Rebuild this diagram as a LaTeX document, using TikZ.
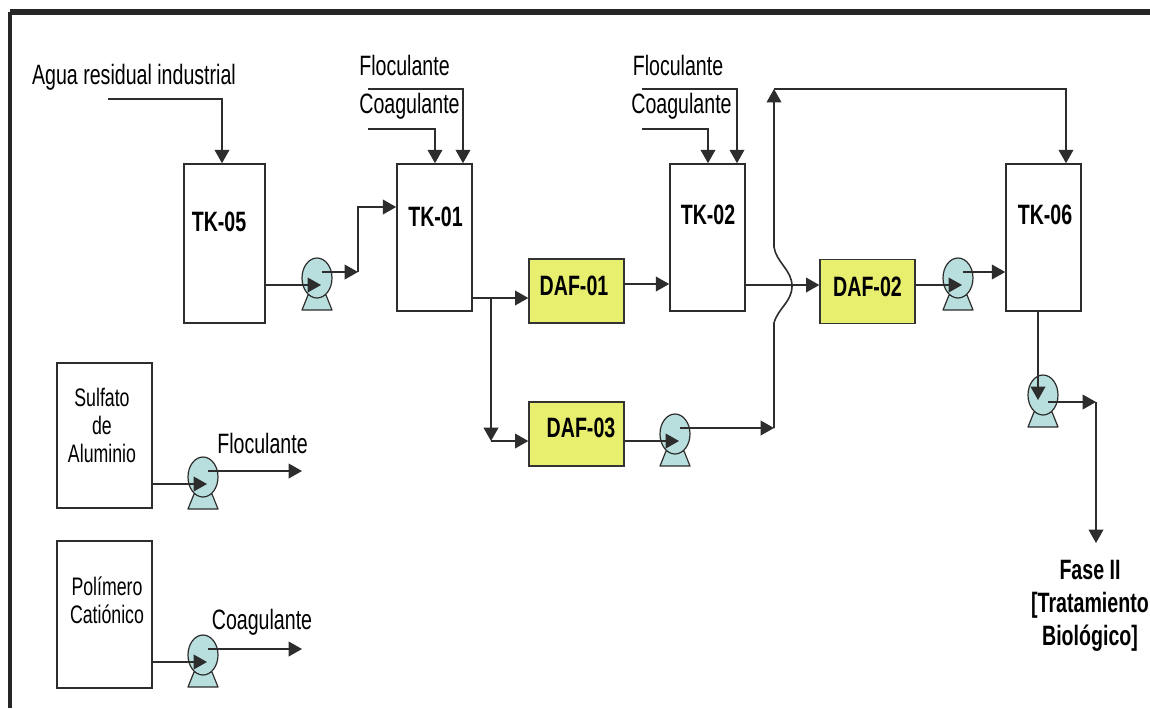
\documentclass[tikz,border=0pt]{standalone}
\usepackage{fontspec}
\setmainfont[FakeStretch=0.7]{Liberation Sans}
\usetikzlibrary{arrows.meta}

\definecolor{dafyellow}{RGB}{232,238,110}
\definecolor{pumpblue}{RGB}{184,222,222}
\definecolor{pipegray}{RGB}{45,45,45}

\tikzset{
  pipe/.style={draw=pipegray, line width=1.2pt},
  tank/.style={draw=pipegray, line width=1.2pt, fill=white, inner sep=0pt},
  daf/.style={draw=black!80, line width=1.2pt, fill=dafyellow, inner sep=0pt,
    minimum width=71pt, minimum height=48pt},
  thintext/.style={inner sep=0pt, font=\fontsize{21}{24}\selectfont},
  tanktext/.style={inner sep=0pt, font=\fontsize{21}{24}\selectfont\bfseries},
  smalltext/.style={inner sep=0pt, align=center, font=\fontsize{19}{21}\selectfont},
  pump/.pic={
    \draw [draw=pipegray, line width=0.9pt, fill=pumpblue, line join=round]
      (-9,17) -- (-15,32) -- (15,32) -- (9,17) -- cycle;
    \draw [draw=pipegray, line width=0.9pt, fill=pumpblue] (0,0) ellipse (15 and 20);
    \coordinate (-in) at (4,7);
    \coordinate (-out) at (5,-6);
  },
}

\begin{document}
\begin{tikzpicture}[x=0.75pt, y=-0.75pt, >={Triangle[length=10pt,width=11pt]}]
  \useasboundingbox (0,0) rectangle (1150,708);
  \coordinate (framea) at (10,708);
  \coordinate (frameb) at (10,12);
  \coordinate (framec) at (1150,12);
  \draw [line width=3pt, black!85] (framea) -- (frameb);
  \draw [line width=4pt, black!85] (frameb) -- (framec);

  \node [tank, minimum width=60.75pt, minimum height=119.25pt] (tk05) at (224.5,243.5) {};
  \node [tank, minimum width=56.25pt, minimum height=110.25pt] (tk01) at (434.5,237.5) {};
  \node [tank, minimum width=56.25pt, minimum height=110.25pt] (tk02) at (707.5,237.5) {};
  \node [tank, minimum width=56.25pt, minimum height=110.25pt] (tk06) at (1043.5,237.5) {};
  \node [tank, minimum width=71.25pt, minimum height=108.75pt] (sulfato) at (104.5,435.5) {};
  \node [tank, minimum width=71.25pt, minimum height=110.25pt] (polimero) at (104.5,614.5) {};
  \node [daf] (dafa) at (576.5,291) {};
  \node [daf] (dafb) at (867.5,291.5) {};
  \node [daf] (dafc) at (576.5,434) {};

  \node [tanktext] (tk05text) at (219,222) {TK-05};
  \node [tanktext] (tk01text) at (435.5,217) {TK-01};
  \node [tanktext] (tk02text) at (708,215) {TK-02};
  \node [tanktext] (tk06text) at (1045,215) {TK-06};
  \node [tanktext] (dafatext) at (574,286) {DAF-01};
  \node [tanktext] (dafbtext) at (867.5,287) {DAF-02};
  \node [tanktext] (dafctext) at (581,428) {DAF-03};
  \node [smalltext] (sulfatotext) at (102,425) {Sulfato\\de\\Aluminio};
  \node [smalltext] (polimerotext) at (107,600) {Polímero\\Catiónico};

  \node [thintext] (agua) at (134,77) {Agua residual industrial};
  \node [thintext] (floca) at (404.5,65) {Floculante};
  \node [thintext] (coaga) at (409.5,106) {Coagulante};
  \node [thintext] (flocb) at (678,65) {Floculante};
  \node [thintext] (coagb) at (681.5,106) {Coagulante};
  \node [thintext] (flocc) at (262.5,443) {Floculante};
  \node [thintext] (coagc) at (262,622) {Coagulante};
  \node [inner sep=0pt, align=center, font=\fontsize{21}{24.75}\selectfont\bfseries] (fase)
    at (1090,606) {Fase II\\{[}Tratamiento\\Biológico{]}};

  \pic (pa) at (317,278) {pump};
  \pic (pb) at (675,434) {pump};
  \pic (pc) at (958,278) {pump};
  \pic (pd) at (203,477) {pump};
  \pic (pe) at (203,655) {pump};
  \pic (pf) at (1043,395) {pump};

  \coordinate (aguastart) at (108,99);
  \coordinate (aguaturn) at (222,99);
  \draw [pipe,->] (aguastart) -- (aguaturn) -- (aguaturn |- tk05.north);

  \coordinate (flocastart) at (368,89);
  \coordinate (flocaturn) at (463,89);
  \coordinate (coagastart) at (368,129);
  \coordinate (coagaturn) at (435,129);
  \draw [pipe,->] (flocastart) -- (flocaturn) -- (flocaturn |- tk01.north);
  \draw [pipe,->] (coagastart) -- (coagaturn) -- (coagaturn |- tk01.north);

  \coordinate (flocbstart) at (642,89);
  \coordinate (flocbturn) at (737,89);
  \coordinate (coagbstart) at (642,129);
  \coordinate (coagbturn) at (708,129);
  \draw [pipe,->] (flocbstart) -- (flocbturn) -- (flocbturn |- tk02.north);
  \draw [pipe,->] (coagbstart) -- (coagbturn) -- (coagbturn |- tk02.north);

  \coordinate (paturn) at (358,272);
  \coordinate (parise) at (358,207);
  \draw [pipe,->] (pa-in -| tk05.east) -- (pa-in);
  \draw [pipe,->] (pa-out) -- (paturn);
  \draw [pipe,->] (paturn) -- (parise) -- (parise -| tk01.west);

  \coordinate (tk01out) at (472,298);
  \coordinate (branch) at (491,298);
  \coordinate (branchend) at (491,441);
  \draw [pipe,->] (tk01out) -- (tk01out -| dafa.west);
  \draw [pipe,->] (branch) -- (branchend);
  \draw [pipe,->] (branchend) -- (branchend -| dafc.west);

  \coordinate (dafaout) at (624,284);
  \draw [pipe,->] (dafaout) -- (dafaout -| tk02.west);
  \coordinate (tk02out) at (745,285);
  \draw [pipe,->] (tk02out) -- (tk02out -| dafb.west);

  \coordinate (riser) at (774,428);
  \coordinate (jumplow) at (774,323);
  \coordinate (jumpmid) at (792,286);
  \coordinate (jumpup) at (774,247);
  \coordinate (risertop) at (774,89);
  \coordinate (topturn) at (1066,89);
  \draw [pipe,->] (pb-in -| dafc.east) -- (pb-in);
  \draw [pipe,->] (pb-out) -- (riser);
  \draw [pipe] (riser) -- (jumplow)
    .. controls (778,308) and (792,302) .. (jumpmid)
    .. controls (792,270) and (776,262) .. (jumpup);
  \draw [pipe,->] (jumpup) -- (risertop);
  \draw [pipe,->] (risertop) -- (topturn) -- (topturn |- tk06.north);

  \draw [pipe,->] (pc-in -| dafb.east) -- (pc-in);
  \draw [pipe,->] (pc-out) -- (pc-out -| tk06.west);

  \coordinate (tk06out) at (1038,310);
  \coordinate (pfin) at (1038,400);
  \coordinate (pfout) at (1048,402);
  \coordinate (pfturn) at (1096,402);
  \coordinate (faseend) at (1096,543);
  \draw [pipe,->] (tk06out) -- (pfin);
  \draw [pipe,->] (pfout) -- (pfturn);
  \draw [pipe,->] (pfturn) -- (faseend);

  \coordinate (floccend) at (302,471);
  \draw [pipe,->] (pd-in -| sulfato.east) -- (pd-in);
  \draw [pipe,->] (pd-out) -- (floccend);

  \coordinate (coagcend) at (302,649);
  \draw [pipe,->] (pe-in -| polimero.east) -- (pe-in);
  \draw [pipe,->] (pe-out) -- (coagcend);
\end{tikzpicture}
\end{document}
